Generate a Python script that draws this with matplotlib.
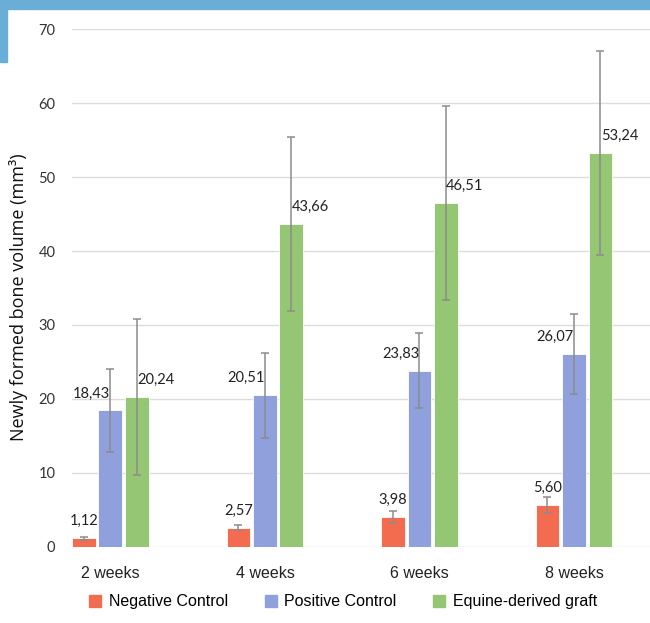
import matplotlib.pyplot as plt
import matplotlib.patches as mpatches
import numpy as np

weeks = ["2 weeks", "4 weeks", "6 weeks", "8 weeks"]
series = ["Negative Control", "Positive Control", "Equine-derived graft"]

neg = [1.12, 2.57, 3.98, 5.60]
pos = [18.43, 20.51, 23.83, 26.07]
equ = [20.24, 43.66, 46.51, 53.24]

neg_err = [0.2, 0.3, 0.85, 1.05]
pos_err = [5.6, 5.75, 5.05, 5.45]
equ_err = [10.5, 11.8, 13.15, 13.8]

colors = ["#F46C4F", "#8FA0DC", "#94C673"]

fig = plt.figure(figsize=(6.5, 6.23), dpi=100)
ax = fig.add_axes([72 / 650, 0.1226, 1 - 72 / 650, 0.8302])

x = np.arange(len(weeks))
w = 0.155
step = 0.1715
vals = [neg, pos, equ]
errs = [neg_err, pos_err, equ_err]
label_dx = [0, -19, 19]

for i in range(3):
    xs = x + (i - 1) * step
    ax.bar(xs, vals[i], width=w, color=colors[i], edgecolor="white",
           linewidth=0.6, label=series[i], zorder=3)
    ax.errorbar(xs, vals[i], yerr=errs[i], fmt="none", ecolor="#8C8C8C",
                elinewidth=1.1, capsize=3.2, capthick=1.1, zorder=4)
    for xx, v in zip(xs, vals[i]):
        ax.annotate(f"{v:.2f}".replace(".", ","), (xx, v),
                    xytext=(label_dx[i], 10), textcoords="offset pixels",
                    ha="center", va="bottom", fontsize=10.5,
                    family="Lato", color="#222222", zorder=5)

ax.set_xlim(-0.249, 3.492)
ax.set_ylim(0, 70)
ax.set_yticks(range(0, 71, 10))
ax.set_xticks(x)
ax.set_xticklabels(weeks, fontsize=11.5, family="Liberation Sans", color="#222222")
for t in ax.get_yticklabels():
    t.set_fontsize(10.5)
    t.set_family("Lato")
    t.set_color("#333333")
ax.tick_params(axis="y", length=0, pad=12)
ax.tick_params(axis="x", length=0, pad=14)
ax.grid(axis="y", color="#DCDCDC", linewidth=1, zorder=0)
ax.set_axisbelow(True)
for s in ax.spines.values():
    s.set_visible(False)

fig.text(19 / 650, 1 - 297 / 623, "Newly formed bone volume (mm³)",
         rotation=90, ha="center", va="center", fontsize=13,
         family="Open Sans", color="#111111")

handles = [mpatches.Patch(color=c) for c in colors]
fig.legend(handles, series, loc="center", bbox_to_anchor=(0.528, 0.034),
           ncol=3, frameon=False, handlelength=0.75,
           handleheight=0.75, handletextpad=0.5, columnspacing=2.3,
           prop={"family": "Liberation Sans", "size": 11.5})

# blue decoration strips at the top and left
fig.patches.append(mpatches.Rectangle((0, 1 - 9 / 623), 1, 9 / 623,
                                      transform=fig.transFigure, color="#6AAED8",
                                      zorder=10))
fig.patches.append(mpatches.Rectangle((0, 1 - 62 / 623), 7 / 650, 62 / 623,
                                      transform=fig.transFigure, color="#6AAED8",
                                      zorder=10))

fig.savefig("out.png", dpi=100)
plt.close()
